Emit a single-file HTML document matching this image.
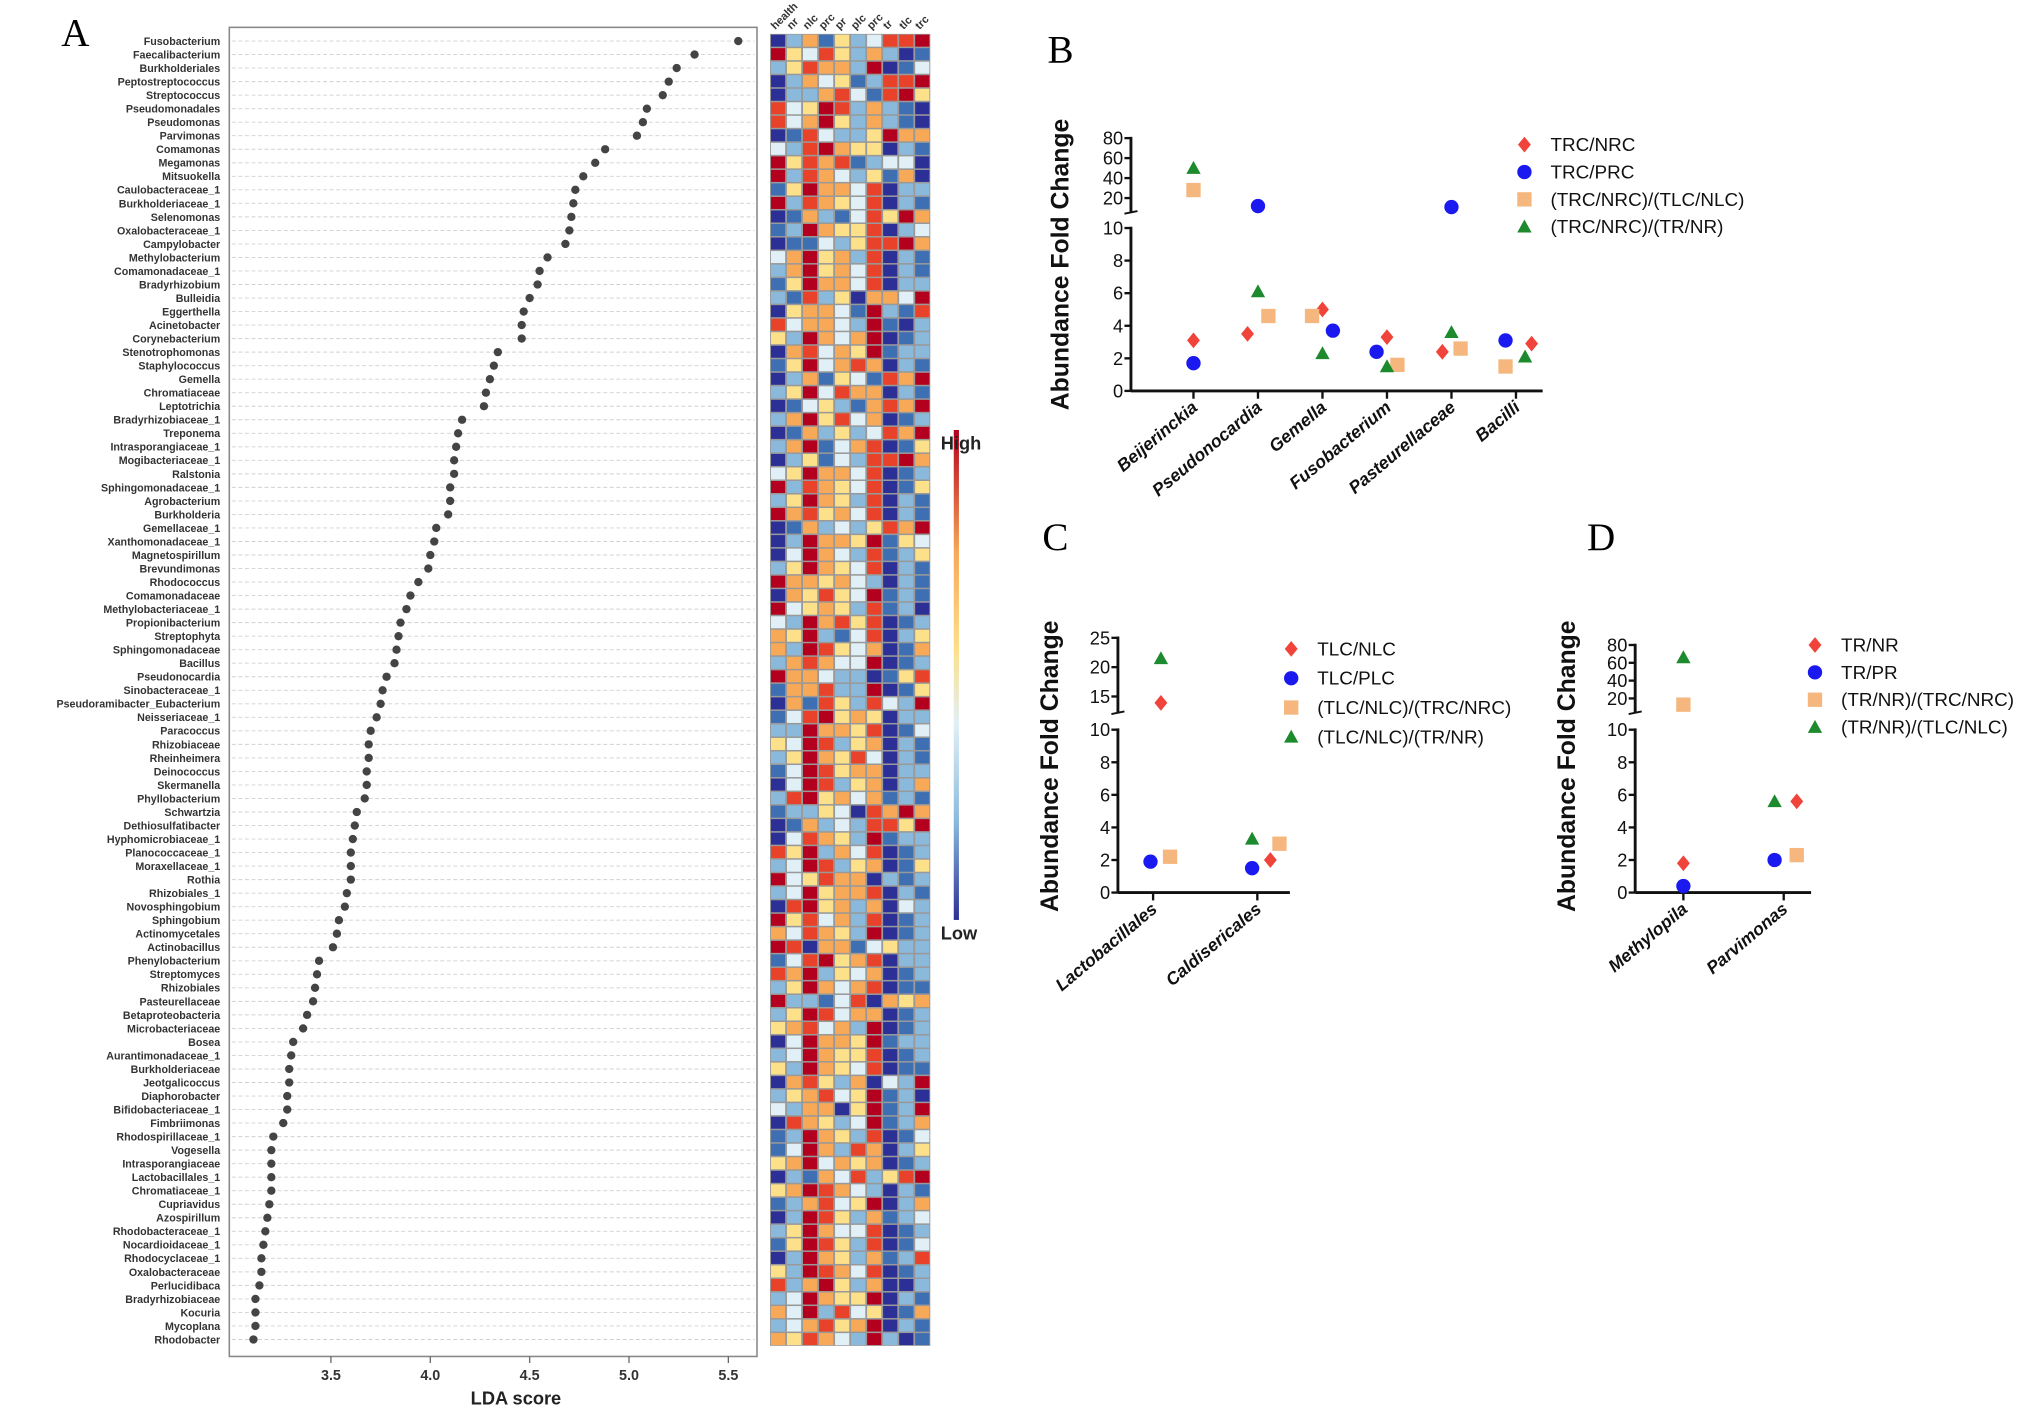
<!DOCTYPE html>
<html><head><meta charset="utf-8"><style>
html,body{margin:0;padding:0;background:#fff;}
svg{display:block;font-family:"Liberation Sans",Arial,sans-serif;}
</style></head><body>
<svg id="fig" width="2043" height="1425" viewBox="0 0 1568 1093.6" preserveAspectRatio="none" xmlns="http://www.w3.org/2000/svg">
<defs>
<linearGradient id="cbar" x1="0" y1="0" x2="0" y2="1">
<stop offset="0" stop-color="#b3001e"/><stop offset="0.25" stop-color="#f8a957"/><stop offset="0.45" stop-color="#fde08a"/><stop offset="0.6" stop-color="#e0f0f6"/><stop offset="0.8" stop-color="#8ab9dc"/><stop offset="1" stop-color="#2b2f96"/>
</linearGradient>
</defs>
<text x="47" y="35" font-family="Liberation Serif,serif" font-size="30">A</text>
<text x="804" y="48" font-family="Liberation Serif,serif" font-size="30">B</text>
<text x="800" y="422" font-family="Liberation Serif,serif" font-size="30">C</text>
<text x="1218" y="422" font-family="Liberation Serif,serif" font-size="30">D</text>
<g id="panelA"></g>
<g id="heat"></g>
<g>
<rect x="732" y="330" width="4" height="376" fill="url(#cbar)"/>
<text x="722" y="345" font-size="14" font-weight="bold" fill="#222">High</text>
<text x="722" y="721" font-size="14" font-weight="bold" fill="#222">Low</text>
</g>
<g id="panelB"></g>
<g id="panelC"></g>
<g id="panelD"></g>
</svg>
<script>
const taxa=["Fusobacterium","Faecalibacterium","Burkholderiales","Peptostreptococcus","Streptococcus","Pseudomonadales","Pseudomonas","Parvimonas","Comamonas","Megamonas","Mitsuokella","Caulobacteraceae_1","Burkholderiaceae_1","Selenomonas","Oxalobacteraceae_1","Campylobacter","Methylobacterium","Comamonadaceae_1","Bradyrhizobium","Bulleidia","Eggerthella","Acinetobacter","Corynebacterium","Stenotrophomonas","Staphylococcus","Gemella","Chromatiaceae","Leptotrichia","Bradyrhizobiaceae_1","Treponema","Intrasporangiaceae_1","Mogibacteriaceae_1","Ralstonia","Sphingomonadaceae_1","Agrobacterium","Burkholderia","Gemellaceae_1","Xanthomonadaceae_1","Magnetospirillum","Brevundimonas","Rhodococcus","Comamonadaceae","Methylobacteriaceae_1","Propionibacterium","Streptophyta","Sphingomonadaceae","Bacillus","Pseudonocardia","Sinobacteraceae_1","Pseudoramibacter_Eubacterium","Neisseriaceae_1","Paracoccus","Rhizobiaceae","Rheinheimera","Deinococcus","Skermanella","Phyllobacterium","Schwartzia","Dethiosulfatibacter","Hyphomicrobiaceae_1","Planococcaceae_1","Moraxellaceae_1","Rothia","Rhizobiales_1","Novosphingobium","Sphingobium","Actinomycetales","Actinobacillus","Phenylobacterium","Streptomyces","Rhizobiales","Pasteurellaceae","Betaproteobacteria","Microbacteriaceae","Bosea","Aurantimonadaceae_1","Burkholderiaceae","Jeotgalicoccus","Diaphorobacter","Bifidobacteriaceae_1","Fimbriimonas","Rhodospirillaceae_1","Vogesella","Intrasporangiaceae","Lactobacillales_1","Chromatiaceae_1","Cupriavidus","Azospirillum","Rhodobacteraceae_1","Nocardioidaceae_1","Rhodocyclaceae_1","Oxalobacteraceae","Perlucidibaca","Bradyrhizobiaceae","Kocuria","Mycoplana","Rhodobacter"];
const ldaScores=[5.55,5.33,5.24,5.2,5.17,5.09,5.07,5.04,4.88,4.83,4.77,4.73,4.72,4.71,4.7,4.68,4.59,4.55,4.54,4.5,4.47,4.46,4.46,4.34,4.32,4.3,4.28,4.27,4.16,4.14,4.13,4.12,4.12,4.1,4.1,4.09,4.03,4.02,4.0,3.99,3.94,3.9,3.88,3.85,3.84,3.83,3.82,3.78,3.76,3.75,3.73,3.7,3.69,3.69,3.68,3.68,3.67,3.63,3.62,3.61,3.6,3.6,3.6,3.58,3.57,3.54,3.53,3.51,3.44,3.43,3.42,3.41,3.38,3.36,3.31,3.3,3.29,3.29,3.28,3.28,3.26,3.21,3.2,3.2,3.2,3.2,3.19,3.18,3.17,3.16,3.15,3.15,3.14,3.12,3.12,3.12,3.11];
const ldaTicks=[3.5,4.0,4.5,5.0,5.5];
const heatCols=["health","nr","nlc","prc","pr","plc","prc","tr","tlc","trc"];
const heatRows=["0251423667","7436425201","2465527013","0253412667","0225631674","6347625210","6357425210","0163224755","3267544021","7465612330","7265324150","1475536022","7265436021","0152136475","1275446023","0113246675","3574526021","2574536021","1475536022","2162405537","0455317216","6355327102","4275357012","0563547122","1473565021","0251431657","2473655021","0134215657","2574635012","0152423657","2571356014","0241326675","3475536012","7265436014","2475426021","7564536021","0152324657","0275547143","0375326124","2475436021","7554532021","0546437121","7345426120","3275646012","5472136024","5276435015","2565337012","7553220146","1556227014","0516426327","1367454022","2275546013","4376245021","2475463021","1376455022","0376245025","2674535121","1224306575","0152326647","0365427122","6472536012","2376245014","7346550212","2374556021","0674525032","7463526012","5365427012","7605513422","1367456022","6572435012","2475356011","7221360545","2476355012","4563527012","0375547122","2375446012","4275436011","0564250327","2456347120","3255047127","0654237125","1275426013","1375265024","4573545012","0215362467","4576532021","1256347025","0276425123","2475336012","1476426013","0275425126","4276536012","6257425002","2375447021","5372634015","2356457021","5465327201"];
const heatPalette=["#2b2f96","#3f6fb3","#8ab9dc","#e0f0f6","#fde08a","#f8a957","#e8432a","#b3001e"];

const NS="http://www.w3.org/2000/svg";
function mk(parent,tag,attrs,text){const e=document.createElementNS(NS,tag);for(const k in attrs)e.setAttribute(k,attrs[k]);if(text!==undefined)e.textContent=text;parent.appendChild(e);return e;}

// Panel A
const A=document.getElementById('panelA');
const rowY=i=>31.5+i*10.38;
const ldaX=v=>254+(v-3.5)*152.5;
let fr=mk(A,'rect',{x:176,y:21,width:405,height:1020,fill:'none',stroke:'#888','stroke-width':1.2});


taxa.forEach((t,i)=>{
  const y=rowY(i);
  const ln=mk(A,'line',{x1:178,x2:579,y1:y,y2:y,stroke:'#d0d0d0','stroke-width':0.7,'stroke-dasharray':'3,2'});
  
  
  const tx=mk(A,'text',{x:169,y:y+3,'text-anchor':'end','font-size':8.2,'font-weight':'bold',fill:'#333'},t);
  
  
  const d=mk(A,'circle',{cx:ldaX(ldaScores[i]),cy:y,r:3.2,fill:'#444'});
  
  
});
ldaTicks.forEach(v=>{
  const x=ldaX(v);
  const tk=mk(A,'line',{x1:x,x2:x,y1:1041,y2:1046,stroke:'#666'});
  
  
  const tl=mk(A,'text',{x:x,y:1059,'text-anchor':'middle','font-size':11,'font-weight':'bold',fill:'#333'},v.toFixed(1));
  
  
});
const xt=mk(A,'text',{x:396,y:1078,'text-anchor':'middle','font-size':14,'font-weight':'bold',fill:'#222'},'LDA score');



// Heatmap
const H=document.getElementById('heat');
const hx0=591,cw=12.3;
mk(H,'rect',{x:hx0,y:26,width:cw*10,height:10.38*97,fill:'#999'});
heatRows.forEach((r,i)=>{
  for(let j=0;j<10;j++){
    const c=mk(H,'rect',{x:hx0+j*cw+0.7,y:26+i*10.38+0.6,width:cw-1.4,height:9.2,fill:heatPalette[+r[j]]});
    
    
  }
});
heatCols.forEach((c,j)=>{
  const x=hx0+j*cw+4;
  const t=mk(H,'text',{x:x,y:23,'font-size':8.5,'font-weight':'bold',fill:'#333',transform:`rotate(-45 ${x} 23)`},c);
  
  
});

// Fold-change panels
const colors={d:'#f0433a',c:'#1a1af0',s:'#f5b77e',t:'#1d8a2e'};
function marker(g,type,x,y,sz){
  let e;
  if(type==='d') e=mk(g,'path',{d:`M${x} ${y-sz*1.1}L${x+sz*0.9} ${y}L${x} ${y+sz*1.1}L${x-sz*0.9} ${y}Z`,fill:colors.d});
  else if(type==='c') e=mk(g,'circle',{cx:x,cy:y,r:sz,fill:colors.c});
  else if(type==='s') e=mk(g,'rect',{x:x-sz,y:y-sz,width:sz*2,height:sz*2,fill:colors.s});
  else e=mk(g,'path',{d:`M${x} ${y-sz}L${x+sz} ${y+sz*0.8}L${x-sz} ${y+sz*0.8}Z`,fill:colors.t});
  return e;
}
function panel(P){
  const g=document.getElementById(P.id);
  const ys=v=> v<=10 ? P.y0-(P.y0-P.y10)*v/10 : P.u20-(v-20)*(P.u20-P.u80)/60;
  // axes
  const ax1=mk(g,'line',{x1:P.x0,x2:P.x0,y1:P.y10-1,y2:P.y0,stroke:'#111','stroke-width':2.2});
  
  
  const ax2=mk(g,'line',{x1:P.x0,x2:P.x0,y1:ys(P.upTicks[P.upTicks.length-1])-1,y2:P.brk,stroke:'#111','stroke-width':2.2});
  
  
  mk(g,'line',{x1:P.x0-5,x2:P.x0+5,y1:P.brk+1,y2:P.brk-1,stroke:'#111','stroke-width':1.5});
  const xa=mk(g,'line',{x1:P.x0,x2:P.xEnd,y1:P.y0,y2:P.y0,stroke:'#111','stroke-width':2.2});
  
  
  P.lowTicks.concat(P.upTicks).forEach(v=>{
    const y=ys(v);
    mk(g,'line',{x1:P.x0-5,x2:P.x0,y1:y,y2:y,stroke:'#111','stroke-width':1.8});
    const t=mk(g,'text',{x:P.x0-6,y:y+5,'text-anchor':'end','font-size':14,fill:'#111'},String(v));
    
    
  });
  const ty=mk(g,'text',{x:P.titleX,y:P.titleY,'text-anchor':'middle','font-size':19,'font-weight':'bold',fill:'#111',transform:`rotate(-90 ${P.titleX} ${P.titleY})`},'Abundance Fold Change');
  
  
  P.cats.forEach((c,i)=>{
    const x=P.cx(i);
    mk(g,'line',{x1:x,x2:x,y1:P.y0,y2:P.y0+6,stroke:'#111','stroke-width':1.8});
    const t=mk(g,'text',{x:x+4,y:P.y0+14,'text-anchor':'end','font-size':13.5,'font-weight':'bold','font-style':'italic',fill:'#111',transform:`rotate(-40 ${x+4} ${P.y0+14})`},c);
    
    
  });
  P.series.forEach((s,k)=>{
    s.vals.forEach((v,i)=>{
      const m=marker(g,s.type,P.cx(i)+s.jit[i],ys(v),5.5);
      
      
    });
    const ly=P.legY+k*P.legDy;
    const lm=marker(g,s.type,P.legX,ly,5.5);
    
    
    const lt=mk(g,'text',{x:P.legX+20,y:ly+5,'font-size':14.5,fill:'#111'},s.name);
    
    
  });
}

// Panel B data
const bCats=["Beijerinckia","Pseudonocardia","Gemella","Fusobacterium","Pasteurellaceae","Bacilli"];
const bTrcNrc=[3.1,3.5,5.0,3.3,2.4,2.9];
const bTrcPrc=[1.7,12,3.7,2.4,11,3.1];
const bRatioTlc=[28,4.6,4.6,1.6,2.6,1.5];
const bRatioTr=[50,6.1,2.3,1.5,3.6,2.1];
// Panel C data
const cCats=["Lactobacillales","Caldisericales"];
const cTlcNlc=[13.9,2.0];
const cTlcPlc=[1.9,1.5];
const cRatioTrc=[2.2,3.0];
const cRatioTr=[21.5,3.3];
// Panel D data
const dCats=["Methylopila","Parvimonas"];
const dTrNr=[1.8,5.6];
const dTrPr=[0.4,2.0];
const dRatioTrc=[13,2.3];
const dRatioTlc=[66,5.6];

panel({id:'panelB',x0:868,xEnd:1184,y0:300,y10:175,u20:152,u80:106,brk:163,lowTicks:[0,2,4,6,8,10],upTicks:[20,40,60,80],
  titleX:820,titleY:203,cats:bCats,cx:i=>916+i*49.5,legX:1170,legY:111,legDy:21,
  series:[{name:'TRC/NRC',type:'d',vals:bTrcNrc,jit:[0,-8,0,0,-7,12]},
          {name:'TRC/PRC',type:'c',vals:bTrcPrc,jit:[0,0,8,-8,0,-8]},
          {name:'(TRC/NRC)/(TLC/NLC)',type:'s',vals:bRatioTlc,jit:[0,8,-8,8,7,-8]},
          {name:'(TRC/NRC)/(TR/NR)',type:'t',vals:bRatioTr,jit:[0,0,0,0,0,7]}]});
panel({id:'panelC',x0:858,xEnd:990,y0:685,y10:560,u20:512,u80:512-60*4.5,brk:547,lowTicks:[0,2,4,6,8,10],upTicks:[15,20,25],
  titleX:812,titleY:588,cats:cCats,cx:i=>885+i*80,legX:991,legY:498,legDy:22.5,
  series:[{name:'TLC/NLC',type:'d',vals:cTlcNlc,jit:[6,10]},
          {name:'TLC/PLC',type:'c',vals:cTlcPlc,jit:[-2,-4]},
          {name:'(TLC/NLC)/(TRC/NRC)',type:'s',vals:cRatioTrc,jit:[13,17]},
          {name:'(TLC/NLC)/(TR/NR)',type:'t',vals:cRatioTr,jit:[6,-4]}]});
panel({id:'panelD',x0:1255,xEnd:1390,y0:685,y10:560,u20:536,u80:495,brk:547,lowTicks:[0,2,4,6,8,10],upTicks:[20,40,60,80],
  titleX:1209,titleY:588,cats:dCats,cx:i=>1292+i*77,legX:1393,legY:495,legDy:21,
  series:[{name:'TR/NR',type:'d',vals:dTrNr,jit:[0,10]},
          {name:'TR/PR',type:'c',vals:dTrPr,jit:[0,-7]},
          {name:'(TR/NRC)/(TRC/NRC)'.replace('NRC)/(TRC','NR)/(TRC'),type:'s',vals:dRatioTrc,jit:[0,10]},
          {name:'(TR/NR)/(TLC/NLC)',type:'t',vals:dRatioTlc,jit:[0,-7]}]});
</script>
</body></html>
